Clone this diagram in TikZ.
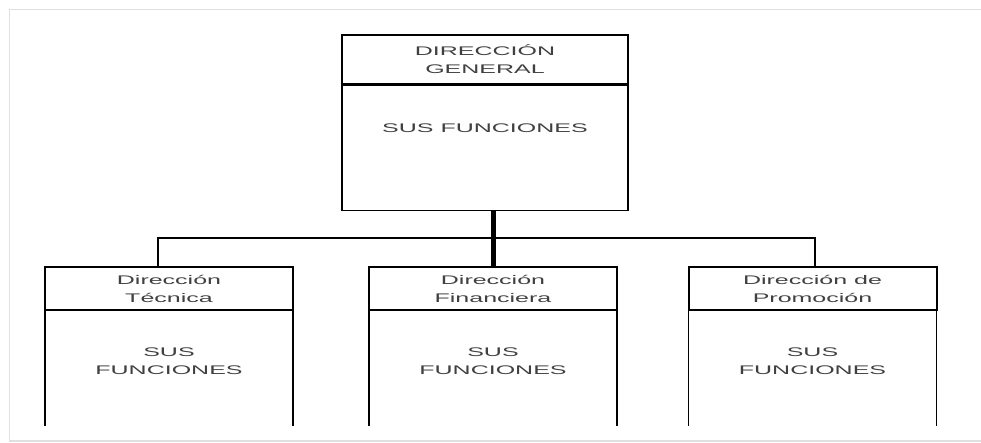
\documentclass[tikz,border=0pt]{standalone}
\usepackage{fontspec}
\newfontfamily\orgfont[FakeStretch=2.0]{Liberation Sans}
\usetikzlibrary{positioning}

\tikzset{
  orgtext/.style={font=\orgfont\fontsize{12.5}{18}\selectfont, text=black!75, align=center},
  head/.style={orgtext, draw, line width=2pt, minimum width=248pt, minimum height=43pt, inner sep=0pt},
  body/.style={orgtext, minimum width=248pt, minimum height=100pt, inner sep=0pt},
  link/.style={line width=1.5pt},
  trunk/.style={line width=5pt},
  frame/.style={line width=1.5pt, black!12}
}

\begin{document}
\begin{tikzpicture}[x=1pt, y=-1pt]
    \useasboundingbox (0,0) rectangle (981,443);
    \draw [frame] (981,9.5) -- (9.5,9.5) -- (9.5,441) -- (981,441);

    % direccion general
    \node [head, minimum width=286pt, minimum height=49pt] (dg) at (485,59.5) {DIRECCIÓN\\GENERAL};
    \node [body, draw, line width=1.5pt, minimum width=286pt, minimum height=0pt,
           text height=47pt, text depth=78pt, below=0pt of dg] (dgfn) {SUS FUNCIONES};

    % las tres direcciones
    \foreach \id/\x/\txt in {dt/169/{Dirección\\Técnica}, df/493/{Dirección\\Financiera},
                             dp/812.5/{Dirección de\\Promoción}} {
      \node [head] (\id) at (\x,288.5) {\txt};
      \node [body, below=0pt of \id] (\id fn) {SUS\\FUNCIONES};
      \draw [link] (\id fn.north west) -- ([yshift=-15pt]\id fn.south west);
      \draw [link] (\id fn.north east) -- ([yshift=-15pt]\id fn.south east);
    }

    \coordinate (bus) at (491,238);
    \draw [link] ([xshift=-11pt]dt.north) |- (bus) -| ([xshift=2.5pt]dp.north);
    \draw [trunk] (dgfn.south -| df.north) -- (df.north);
\end{tikzpicture}
\end{document}
